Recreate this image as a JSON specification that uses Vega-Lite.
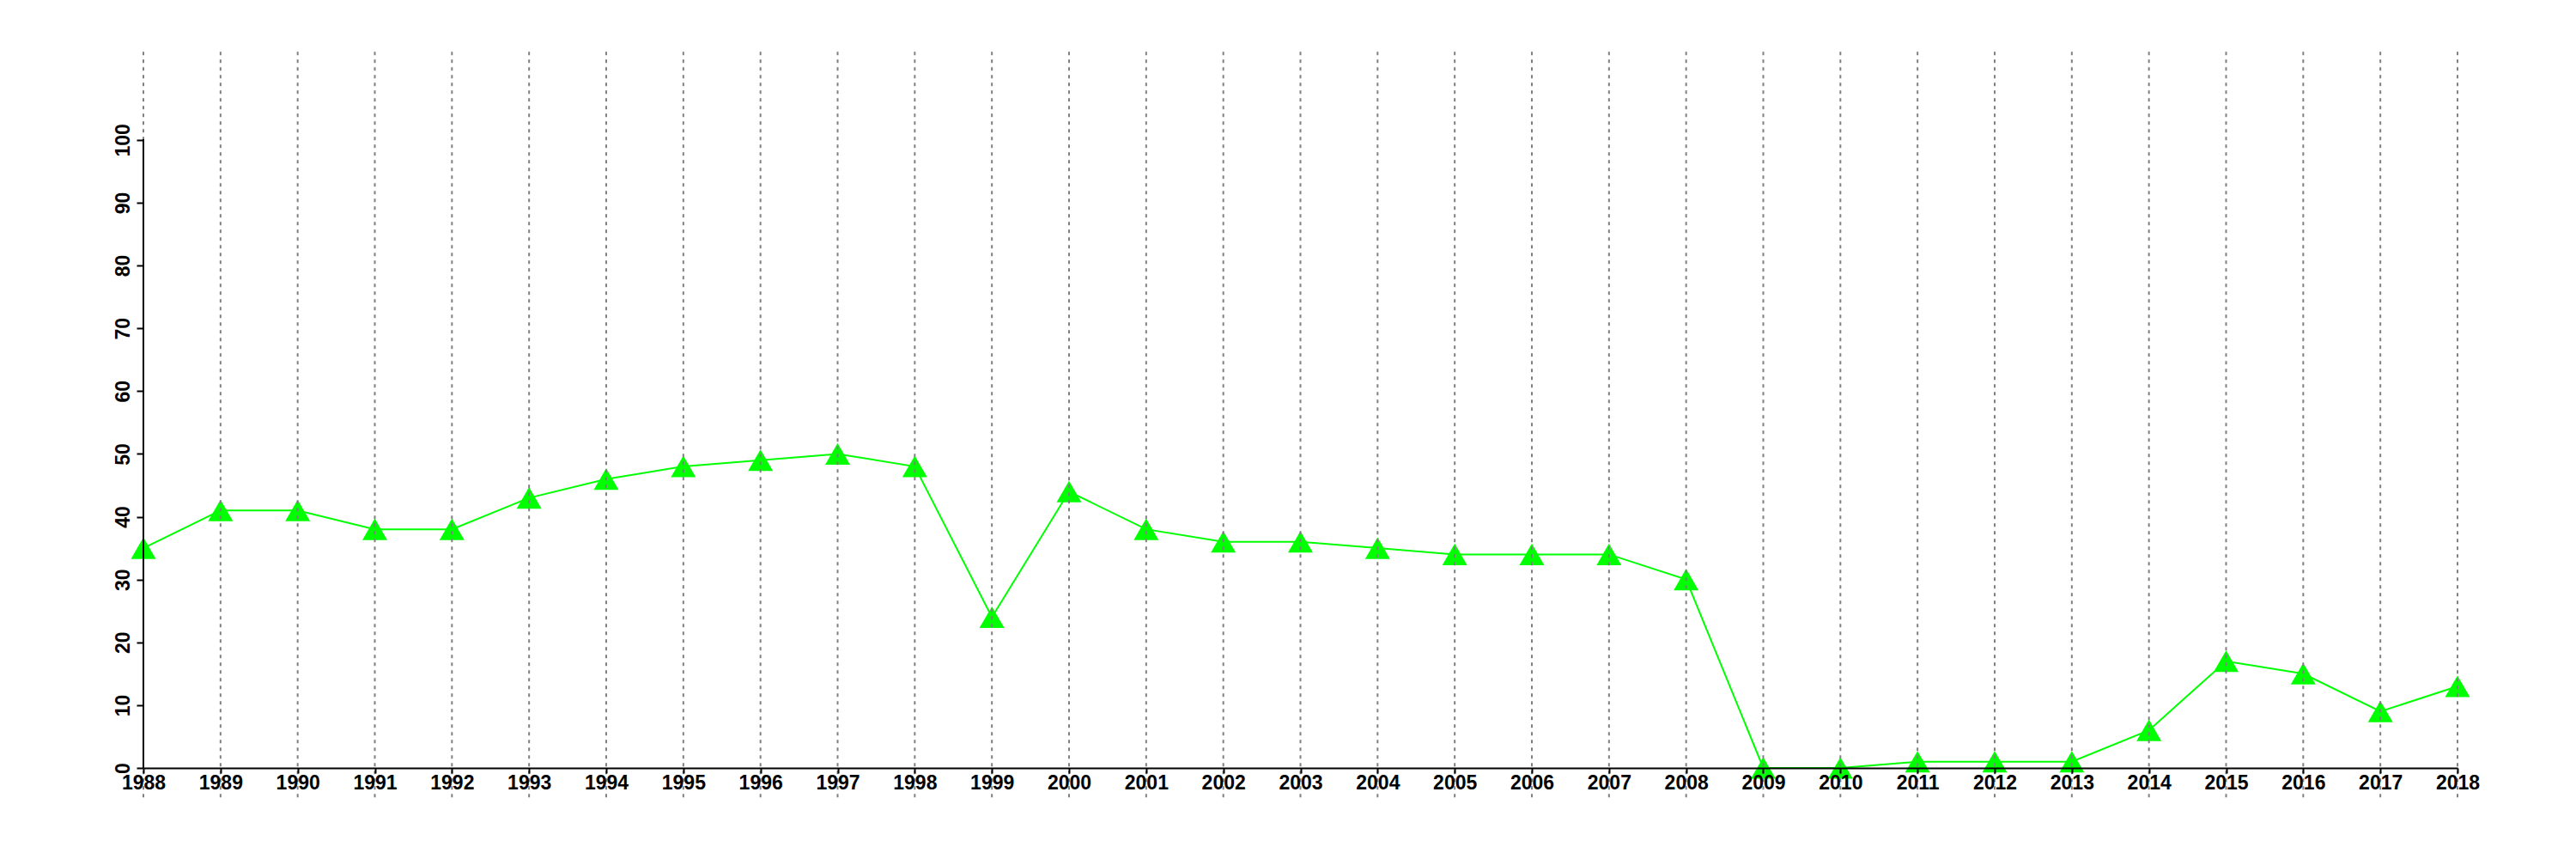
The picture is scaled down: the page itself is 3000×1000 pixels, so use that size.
{
  "$schema": "https://vega.github.io/schema/vega-lite/v6.json",
  "autosize": "none",
  "width": 2695,
  "height": 835,
  "padding": {"left": 167, "top": 59, "right": 138, "bottom": 106},
  "background": "white",
  "config": {
    "view": {"stroke": null},
    "font": "Liberation Sans"
  },
  "data": {
    "values": [
      {"year": 1988, "value": 35},
      {"year": 1989, "value": 41},
      {"year": 1990, "value": 41},
      {"year": 1991, "value": 38},
      {"year": 1992, "value": 38},
      {"year": 1993, "value": 43},
      {"year": 1994, "value": 46},
      {"year": 1995, "value": 48},
      {"year": 1996, "value": 49},
      {"year": 1997, "value": 50},
      {"year": 1998, "value": 48},
      {"year": 1999, "value": 24},
      {"year": 2000, "value": 44},
      {"year": 2001, "value": 38},
      {"year": 2002, "value": 36},
      {"year": 2003, "value": 36},
      {"year": 2004, "value": 35},
      {"year": 2005, "value": 34},
      {"year": 2006, "value": 34},
      {"year": 2007, "value": 34},
      {"year": 2008, "value": 30},
      {"year": 2009, "value": 0},
      {"year": 2010, "value": 0},
      {"year": 2011, "value": 1},
      {"year": 2012, "value": 1},
      {"year": 2013, "value": 1},
      {"year": 2014, "value": 6},
      {"year": 2015, "value": 17},
      {"year": 2016, "value": 15},
      {"year": 2017, "value": 9},
      {"year": 2018, "value": 13}
    ]
  },
  "layer": [
    {
      "mark": {"type": "line", "stroke": "#00ff00", "strokeWidth": 2},
      "encoding": {
        "x": {
          "field": "year",
          "type": "quantitative",
          "scale": {"domain": [1988, 2018], "nice": false, "zero": false},
          "axis": {
            "title": null,
            "values": [1988, 1989, 1990, 1991, 1992, 1993, 1994, 1995, 1996, 1997, 1998, 1999, 2000, 2001, 2002, 2003, 2004, 2005, 2006, 2007, 2008, 2009, 2010, 2011, 2012, 2013, 2014, 2015, 2016, 2017, 2018],
            "format": "d",
            "grid": false,
            "domain": true,
            "domainColor": "black",
            "domainWidth": 2,
            "tickColor": "black",
            "tickWidth": 2,
            "tickSize": 6,
            "labelPadding": 0,
            "labelFont": "Liberation Sans",
            "labelFontWeight": "bold",
            "labelFontSize": 23,
            "labelColor": "black",
            "labelAngle": 0,
            "labelFlush": false,
            "labelOverlap": false,
            "zindex": 1
          }
        },
        "y": {
          "field": "value",
          "type": "quantitative",
          "scale": {"domain": [0, 114.2], "nice": false, "zero": true},
          "axis": {
            "title": null,
            "values": [0, 10, 20, 30, 40, 50, 60, 70, 80, 90, 100],
            "grid": false,
            "domain": false,
            "tickColor": "black",
            "tickWidth": 2,
            "tickSize": 8,
            "labelPadding": 4,
            "labelFont": "Liberation Sans",
            "labelFontWeight": "bold",
            "labelFontSize": 23,
            "labelColor": "black",
            "labelAngle": 270,
            "labelAlign": "center",
            "labelBaseline": "bottom",
            "labelFlush": false,
            "labelOverlap": false,
            "zindex": 1
          }
        }
      }
    },
    {
      "mark": {"type": "point", "shape": "triangle-up", "filled": true, "color": "#00ff00", "size": 840, "opacity": 1},
      "encoding": {
        "x": {"field": "year", "type": "quantitative"},
        "y": {"field": "value", "type": "quantitative"}
      }
    },
    {
      "mark": {"type": "rule", "stroke": "#808080", "strokeWidth": 2, "strokeDash": [4, 5]},
      "encoding": {
        "x": {"field": "year", "type": "quantitative"},
        "y": {"datum": -4.7},
        "y2": {"datum": 114.2}
      }
    },
    {
      "mark": {"type": "rule", "stroke": "black", "strokeWidth": 2},
      "encoding": {
        "x": {"datum": 1988},
        "y": {"datum": 0},
        "y2": {"datum": 100}
      }
    }
  ]
}
